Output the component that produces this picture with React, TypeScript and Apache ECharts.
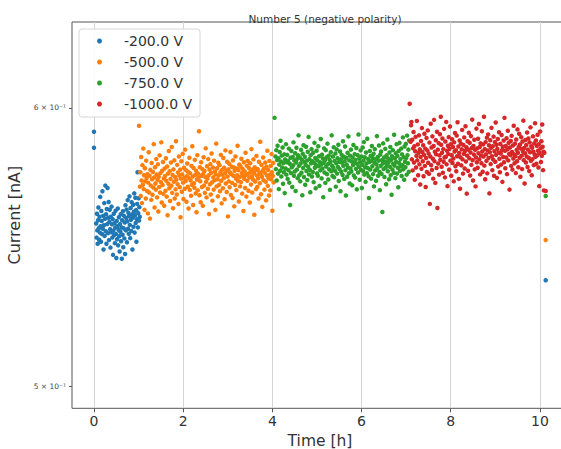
import React, { useEffect, useRef } from 'react';
import * as echarts from 'echarts';

const titleText = 'Number 5 (negative polarity)';
const xAxisName = 'Time [h]';
const yAxisName = 'Current [nA]';
const seriesNames = ['-200.0 V', '-500.0 V', '-750.0 V', '-1000.0 V'];
const seriesColors = ['#1f77b4', '#ff7f0e', '#2ca02c', '#d62728'];
const xTickValues = [0, 2, 4, 6, 8, 10];
const yTickValues = [0.5, 0.6];
const yTickLabels = ['5 × 10⁻¹', '6 × 10⁻¹'];

// regular sampling of each voltage step: [first time (h), step (h)]
const blueTiming = [0.05, 0.0082];
const orangeTiming = [1.03, 0.0094];
const greenTiming = [4.07, 0.0094];
const redTiming = [7.1, 0.0094];

// isolated points [time (h), current (nA)]
const blueExtra = [[0, 0.5907], [0, 0.5845], [10.13, 0.5359]];
const orangeExtra = [[1.01, 0.593], [10.13, 0.5502]];
const greenExtra = [[4.05, 0.5961], [10.13, 0.5663]];
const redExtra = [[7.08, 0.6016], [10.13, 0.5682]];

const blueValues = [
  0.5562, 0.5511, 0.5598, 0.5537, 0.5489, 0.5574, 0.5621, 0.5545, 0.5503, 0.5587,
  0.5529, 0.566, 0.5552, 0.5496, 0.5608, 0.5571, 0.5524, 0.5681, 0.5543, 0.559,
  0.5468, 0.5556, 0.5637, 0.5517, 0.5579, 0.5702, 0.5534, 0.5596, 0.5489, 0.5615,
  0.556, 0.5693, 0.5527, 0.5583, 0.5641, 0.5502, 0.5568, 0.5612, 0.5541, 0.5475,
  0.5587, 0.553, 0.5624, 0.5559, 0.5511, 0.5578, 0.5449, 0.5536, 0.5598, 0.552,
  0.5563, 0.5491, 0.5547, 0.5609, 0.5524, 0.5438, 0.5571, 0.5505, 0.5552, 0.5617,
  0.5483, 0.5539, 0.5585, 0.5516, 0.5461, 0.556, 0.5532, 0.5596, 0.5498, 0.5548,
  0.5435, 0.5574, 0.5521, 0.5607, 0.5476, 0.5545, 0.559, 0.5508, 0.5566, 0.5452,
  0.5629, 0.5537, 0.5582, 0.5613, 0.5494, 0.557, 0.5648, 0.5543, 0.5601, 0.5525,
  0.5589, 0.5662, 0.5557, 0.5509, 0.5619, 0.5576, 0.5535, 0.564, 0.5595, 0.5468,
  0.5583, 0.5631, 0.555, 0.5605, 0.5673, 0.5529, 0.5592, 0.5657, 0.5564, 0.5611,
  0.5496, 0.5578, 0.5634, 0.5752, 0.5548, 0.56, 0.5655, 0.5573, 0.5622, 0.5587,
];

const orangeValues = [
  0.5698, 0.5752, 0.5663, 0.581, 0.5721, 0.5637, 0.5779, 0.5705, 0.5842, 0.5689,
  0.5741, 0.5612, 0.5767, 0.5718, 0.5654, 0.5796, 0.573, 0.5682, 0.5745, 0.5599,
  0.5713, 0.5828, 0.5676, 0.5739, 0.558, 0.5761, 0.5702, 0.5649, 0.5787, 0.5726,
  0.5668, 0.5753, 0.5695, 0.5859, 0.5733, 0.5621, 0.5771, 0.571, 0.5687, 0.5802,
  0.5744, 0.5658, 0.5723, 0.5782, 0.5606, 0.5735, 0.5697, 0.5816, 0.5676, 0.5749,
  0.5715, 0.5866, 0.5639, 0.5758, 0.5704, 0.5791, 0.5671, 0.5729, 0.5627, 0.5766,
  0.5738, 0.5683, 0.5805, 0.572, 0.5661, 0.5774, 0.5592, 0.5747, 0.5709, 0.5833,
  0.5692, 0.5756, 0.5645, 0.5727, 0.5789, 0.5701, 0.5848, 0.5675, 0.5742, 0.5618,
  0.5763, 0.5716, 0.5797, 0.5654, 0.5734, 0.5688, 0.587, 0.5724, 0.5669, 0.578,
  0.5707, 0.5751, 0.5634, 0.5812, 0.574, 0.5696, 0.5762, 0.5585, 0.5728, 0.5794,
  0.5679, 0.5744, 0.5822, 0.5713, 0.5652, 0.5769, 0.5731, 0.569, 0.5838, 0.5719,
  0.576, 0.5642, 0.5737, 0.5785, 0.5698, 0.5753, 0.5617, 0.573, 0.5807, 0.5686,
  0.5748, 0.5721, 0.5664, 0.5776, 0.5705, 0.5851, 0.5736, 0.563, 0.5768, 0.5711,
  0.5694, 0.5799, 0.5742, 0.5673, 0.5758, 0.5603, 0.5725, 0.5817, 0.5684, 0.5747,
  0.5732, 0.5909, 0.5666, 0.5771, 0.5718, 0.564, 0.579, 0.5739, 0.5697, 0.5764,
  0.5627, 0.5746, 0.5809, 0.5702, 0.5757, 0.5675, 0.5734, 0.5843, 0.5716, 0.5658,
  0.5775, 0.5728, 0.569, 0.5802, 0.5741, 0.5597, 0.5762, 0.5707, 0.5783, 0.5669,
  0.575, 0.5823, 0.5714, 0.5646, 0.577, 0.5733, 0.5687, 0.5796, 0.5722, 0.5755,
  0.5612, 0.5744, 0.5861, 0.5699, 0.5767, 0.5726, 0.5662, 0.5788, 0.574, 0.5705,
  0.5779, 0.5681, 0.5752, 0.5818, 0.572, 0.5636, 0.5761, 0.5743, 0.5692, 0.5806,
  0.573, 0.5769, 0.5651, 0.5748, 0.5835, 0.571, 0.5757, 0.5678, 0.5792, 0.5736,
  0.5588, 0.5763, 0.5718, 0.5784, 0.5696, 0.5751, 0.5829, 0.5667, 0.5745, 0.5773,
  0.5712, 0.5656, 0.5797, 0.5739, 0.577, 0.5625, 0.5758, 0.5704, 0.5812, 0.5728,
  0.5685, 0.5766, 0.5741, 0.5853, 0.5719, 0.576, 0.5643, 0.5781, 0.5734, 0.5699,
  0.5774, 0.5715, 0.5803, 0.5749, 0.5672, 0.5765, 0.5738, 0.5608, 0.579, 0.5727,
  0.5755, 0.5693, 0.5826, 0.5742, 0.5661, 0.5777, 0.572, 0.5795, 0.5746, 0.5683,
  0.5768, 0.5732, 0.5639, 0.5786, 0.5754, 0.5706, 0.584, 0.5737, 0.5676, 0.5762,
  0.5725, 0.5801, 0.5748, 0.5594, 0.5771, 0.5717, 0.5759, 0.5689, 0.5814, 0.574,
  0.5697, 0.5764, 0.5729, 0.5654, 0.5792, 0.5751, 0.5711, 0.5868, 0.5744, 0.567,
  0.578, 0.5735, 0.5623, 0.5758, 0.5808, 0.5722, 0.5766, 0.5687, 0.575, 0.5789,
  0.5716, 0.5647, 0.5773, 0.574, 0.5834, 0.5701, 0.5761, 0.5729, 0.5665, 0.5795,
  0.5743, 0.5684, 0.5776, 0.5726, 0.5821, 0.5752, 0.5609, 0.5738, 0.5787, 0.5714,
];

const greenValues = [
  0.5812, 0.5764, 0.5836, 0.5721, 0.5798, 0.5853, 0.5747, 0.5805, 0.5689, 0.5781,
  0.5829, 0.5758, 0.5872, 0.5793, 0.5736, 0.5815, 0.577, 0.5846, 0.5709, 0.5787,
  0.5752, 0.582, 0.5674, 0.5801, 0.5766, 0.5859, 0.5743, 0.579, 0.5818, 0.5727,
  0.5795, 0.576, 0.5842, 0.5713, 0.5784, 0.563, 0.5807, 0.5749, 0.5833, 0.5771,
  0.5697, 0.581, 0.5778, 0.5866, 0.5739, 0.5797, 0.5755, 0.5824, 0.5682, 0.5789,
  0.5845, 0.5762, 0.5803, 0.573, 0.5816, 0.5893, 0.5776, 0.5741, 0.5808, 0.5718,
  0.5785, 0.5837, 0.575, 0.5799, 0.5666, 0.5822, 0.5768, 0.5855, 0.5734, 0.5792,
  0.5811, 0.5705, 0.578, 0.5849, 0.5757, 0.5796, 0.5723, 0.583, 0.5773, 0.5887,
  0.5744, 0.5802, 0.5761, 0.5677, 0.5817, 0.5786, 0.584, 0.5736, 0.5794, 0.5753,
  0.5826, 0.5715, 0.5788, 0.5864, 0.5769, 0.5806, 0.5692, 0.5779, 0.5834, 0.5748,
  0.5797, 0.5739, 0.5851, 0.5775, 0.5813, 0.5701, 0.579, 0.5759, 0.5879, 0.5782,
  0.5729, 0.5819, 0.5766, 0.5804, 0.5659, 0.5787, 0.5843, 0.5751, 0.5798, 0.5712,
  0.5836, 0.5774, 0.5809, 0.5745, 0.5861, 0.5783, 0.5725, 0.5815, 0.5763, 0.58,
  0.5686, 0.5791, 0.5828, 0.5756, 0.5893, 0.5777, 0.5738, 0.5812, 0.5769, 0.5847,
  0.5733, 0.5795, 0.5758, 0.5823, 0.5698, 0.5786, 0.5839, 0.5747, 0.5805, 0.5772,
  0.5857, 0.5719, 0.5792, 0.5764, 0.5831, 0.5681, 0.5801, 0.5754, 0.5818, 0.5788,
  0.5742, 0.587, 0.5776, 0.5811, 0.5727, 0.5794, 0.585, 0.576, 0.5665, 0.5807,
  0.5781, 0.5735, 0.5826, 0.577, 0.5889, 0.5748, 0.5797, 0.571, 0.5815, 0.5766,
  0.5838, 0.5755, 0.5793, 0.5703, 0.5808, 0.5779, 0.5856, 0.574, 0.5787, 0.5821,
  0.5732, 0.5799, 0.5765, 0.5844, 0.5688, 0.5784, 0.5817, 0.5751, 0.5896, 0.5773,
  0.5804, 0.5724, 0.579, 0.5835, 0.5761, 0.5812, 0.5693, 0.578, 0.5846, 0.5757,
  0.5796, 0.5867, 0.5743, 0.5809, 0.5771, 0.5716, 0.5827, 0.5785, 0.5749, 0.588,
  0.5768, 0.5802, 0.5737, 0.5656, 0.5791, 0.5833, 0.5762, 0.5814, 0.5728, 0.5795,
  0.5852, 0.5775, 0.5806, 0.5745, 0.5822, 0.5699, 0.5788, 0.584, 0.5759, 0.5801,
  0.572, 0.5782, 0.589, 0.5767, 0.581, 0.5739, 0.5796, 0.5854, 0.5753, 0.5685,
  0.5819, 0.5776, 0.5831, 0.5746, 0.5798, 0.5604, 0.5785, 0.5862, 0.5764, 0.5808,
  0.5734, 0.5793, 0.5841, 0.577, 0.5707, 0.5816, 0.5781, 0.5877, 0.5756, 0.5803,
  0.579, 0.5726, 0.5827, 0.5773, 0.5848, 0.5741, 0.5799, 0.5668, 0.5813, 0.5762,
  0.5836, 0.5784, 0.575, 0.5895, 0.5777, 0.5805, 0.573, 0.5824, 0.5791, 0.5859,
  0.5747, 0.5814, 0.5769, 0.5696, 0.5833, 0.5787, 0.5864, 0.5758, 0.5802, 0.5775,
  0.5842, 0.5738, 0.582, 0.5779, 0.5885, 0.5763, 0.5809, 0.5724, 0.585, 0.5792,
  0.5771, 0.586, 0.5806, 0.5743, 0.5892, 0.5817, 0.5786, 0.5838, 0.5754, 0.5873,
];

const redValues = [
  0.5868, 0.5932, 0.5945, 0.5801, 0.5876, 0.5759, 0.5843, 0.5906, 0.5789, 0.5851,
  0.5724, 0.5832, 0.5887, 0.577, 0.5814, 0.5949, 0.5797, 0.5858, 0.5741, 0.5826,
  0.5893, 0.5782, 0.5839, 0.5706, 0.581, 0.5871, 0.5765, 0.5921, 0.5829, 0.5794,
  0.5855, 0.5737, 0.5818, 0.5899, 0.5776, 0.5842, 0.5697, 0.5806, 0.5883, 0.5753,
  0.5835, 0.5912, 0.5788, 0.5823, 0.5746, 0.5865, 0.5634, 0.5812, 0.5938, 0.5779,
  0.5846, 0.5761, 0.5889, 0.5803, 0.5728, 0.5852, 0.5953, 0.5794, 0.583, 0.5712,
  0.5874, 0.582, 0.5768, 0.5907, 0.5619, 0.5838, 0.5785, 0.5863, 0.5743, 0.5816,
  0.5897, 0.5799, 0.5965, 0.5857, 0.5773, 0.5826, 0.5881, 0.575, 0.584, 0.5792,
  0.5918, 0.5808, 0.5733, 0.5869, 0.5811, 0.5945, 0.5782, 0.5834, 0.57, 0.5853,
  0.5821, 0.5886, 0.5762, 0.5841, 0.5927, 0.5796, 0.5859, 0.5739, 0.5817, 0.5878,
  0.5787, 0.5848, 0.5804, 0.5718, 0.5866, 0.5831, 0.5902, 0.5775, 0.5836, 0.5756,
  0.5892, 0.5813, 0.5944, 0.5784, 0.585, 0.5727, 0.5825, 0.5873, 0.569, 0.5809,
  0.5861, 0.5778, 0.5839, 0.5914, 0.5801, 0.5747, 0.5856, 0.5822, 0.5885, 0.5766,
  0.5833, 0.5928, 0.5793, 0.5847, 0.5672, 0.5815, 0.587, 0.5758, 0.5838, 0.5903,
  0.5805, 0.5864, 0.574, 0.5827, 0.589, 0.578, 0.5844, 0.5954, 0.5798, 0.5721,
  0.5852, 0.5819, 0.5876, 0.5763, 0.5837, 0.5699, 0.5808, 0.5919, 0.579, 0.5843,
  0.5769, 0.588, 0.5824, 0.5937, 0.5801, 0.5848, 0.5744, 0.5862, 0.5815, 0.5786,
  0.5909, 0.5831, 0.5754, 0.5858, 0.5812, 0.5965, 0.5777, 0.584, 0.5726, 0.5867,
  0.582, 0.5795, 0.5884, 0.5748, 0.5835, 0.5896, 0.5806, 0.5855, 0.5673, 0.5828,
  0.5874, 0.5783, 0.5845, 0.5922, 0.5813, 0.576, 0.5851, 0.58, 0.5888, 0.5739,
  0.5832, 0.5867, 0.5792, 0.5943, 0.5818, 0.5857, 0.5731, 0.5841, 0.5879, 0.5774,
  0.5827, 0.5905, 0.5803, 0.5752, 0.586, 0.5823, 0.5781, 0.5894, 0.5836, 0.5716,
  0.5849, 0.581, 0.5873, 0.579, 0.5961, 0.5834, 0.5767, 0.5852, 0.5808, 0.5882,
  0.5745, 0.5839, 0.5911, 0.5797, 0.5864, 0.5822, 0.5687, 0.5846, 0.5817, 0.5871,
  0.5776, 0.5891, 0.5829, 0.5762, 0.5854, 0.5804, 0.593, 0.582, 0.5786, 0.5861,
  0.5813, 0.5749, 0.5877, 0.5837, 0.5794, 0.5916, 0.5826, 0.5771, 0.5848, 0.5899,
  0.5807, 0.5858, 0.5735, 0.5842, 0.5886, 0.5815, 0.5764, 0.5869, 0.5831, 0.595,
  0.5798, 0.5844, 0.571, 0.5824, 0.5875, 0.5789, 0.5856, 0.5812, 0.5904, 0.5772,
  0.5838, 0.5881, 0.5806, 0.5757, 0.5866, 0.5828, 0.5924, 0.5795, 0.5851, 0.5741,
  0.5845, 0.5802, 0.5889, 0.583, 0.5779, 0.5862, 0.5819, 0.594, 0.5811, 0.5873,
  0.5784, 0.5853, 0.5816, 0.5895, 0.5834, 0.577, 0.5859, 0.57, 0.5825, 0.5908,
  0.5843, 0.5791, 0.587, 0.5814, 0.5935, 0.5849, 0.576, 0.583, 0.5684, 0.5826,
];

const FONT = 'DejaVu Sans';

function buildPoints(timing: number[], values: number[], extra: number[][]) {
  const pts: number[][] = values.map((v, i) => [
    Math.round((timing[0] + i * timing[1]) * 10000) / 10000,
    v,
  ]);
  return [...extra.filter((e) => e[0] < timing[0]), ...pts, ...extra.filter((e) => e[0] >= timing[0])];
}

export default function App() {
  const ref = useRef<HTMLDivElement>(null);

  useEffect(() => {
    if (!ref.current) return;
    const chart = echarts.init(ref.current, null, { renderer: 'svg' });
    const groups = [
      buildPoints(blueTiming, blueValues, blueExtra),
      buildPoints(orangeTiming, orangeValues, orangeExtra),
      buildPoints(greenTiming, greenValues, greenExtra),
      buildPoints(redTiming, redValues, redExtra),
    ];
    chart.setOption({
      animation: false,
      backgroundColor: '#ffffff',
      textStyle: { fontFamily: FONT },
      title: {
        text: titleText,
        left: 320,
        top: 8,
        textAlign: 'center',
        textStyle: { fontFamily: FONT, fontSize: 10.5, fontWeight: 'normal', color: '#333' },
      },
      legend: {
        orient: 'vertical',
        left: 79,
        top: 29,
        padding: [4, 8, 5, 18],
        itemGap: 5,
        itemWidth: 5,
        itemHeight: 5,
        icon: 'circle',
        backgroundColor: 'rgba(255,255,255,0.85)',
        borderColor: '#d6d6d6',
        borderWidth: 1,
        borderRadius: 3,
        textStyle: {
          fontFamily: FONT,
          fontSize: 14,
          color: '#333',
          lineHeight: 16,
          padding: [0, 0, 0, 17],
        },
        data: seriesNames,
      },
      grid: {
        show: true,
        left: 72,
        top: 22,
        width: 496,
        height: 386.3,
        outerBoundsMode: 'none',
        containLabel: false,
        borderColor: '#555',
        borderWidth: 1,
        backgroundColor: 'transparent',
      },
      xAxis: {
        type: 'value',
        min: -0.493,
        max: 10.63,
        name: xAxisName,
        nameLocation: 'middle',
        nameGap: 19,
        nameTextStyle: { fontFamily: FONT, fontSize: 15.5, color: '#333', lineHeight: 16 },
        axisLine: { show: false, onZero: false },
        axisTick: {
          show: true,
          customValues: xTickValues,
          length: 4,
          lineStyle: { color: '#555' },
        },
        axisLabel: {
          customValues: xTickValues,
          fontFamily: FONT,
          fontSize: 14,
          color: '#333',
          margin: 6,
        },
        splitLine: { show: true, lineStyle: { color: '#d4d4d4', width: 1 } },
      },
      yAxis: {
        type: 'log',
        logBase: 10,
        min: 0.49276,
        max: 0.63474,
        name: yAxisName,
        nameLocation: 'middle',
        nameGap: 43,
        nameTextStyle: { fontFamily: FONT, fontSize: 16, color: '#333' },
        axisLine: { show: false, onZero: false },
        axisTick: {
          show: true,
          customValues: yTickValues,
          length: 3,
          lineStyle: { color: '#555' },
        },
        axisLabel: {
          customValues: yTickValues,
          fontFamily: FONT,
          fontSize: 7.5,
          color: '#444',
          margin: 6,
          formatter: (v: number) => {
            const i = yTickValues.findIndex((t) => Math.abs(t - v) < 1e-6);
            return i >= 0 ? yTickLabels[i] : '';
          },
        },
        splitLine: { show: false },
        minorTick: { show: false },
      },
      series: groups.map((data, i) => ({
        name: seriesNames[i],
        type: 'scatter',
        data,
        symbol: 'circle',
        symbolSize: 4.5,
        itemStyle: { color: seriesColors[i], opacity: 1 },
        emphasis: { disabled: true },
      })),
    });
    return () => chart.dispose();
  }, []);

  return (
    <div
      ref={ref}
      style={{ position: 'fixed', left: 0, top: 0, width: 561, height: 449, background: '#fff' }}
    />
  );
}
